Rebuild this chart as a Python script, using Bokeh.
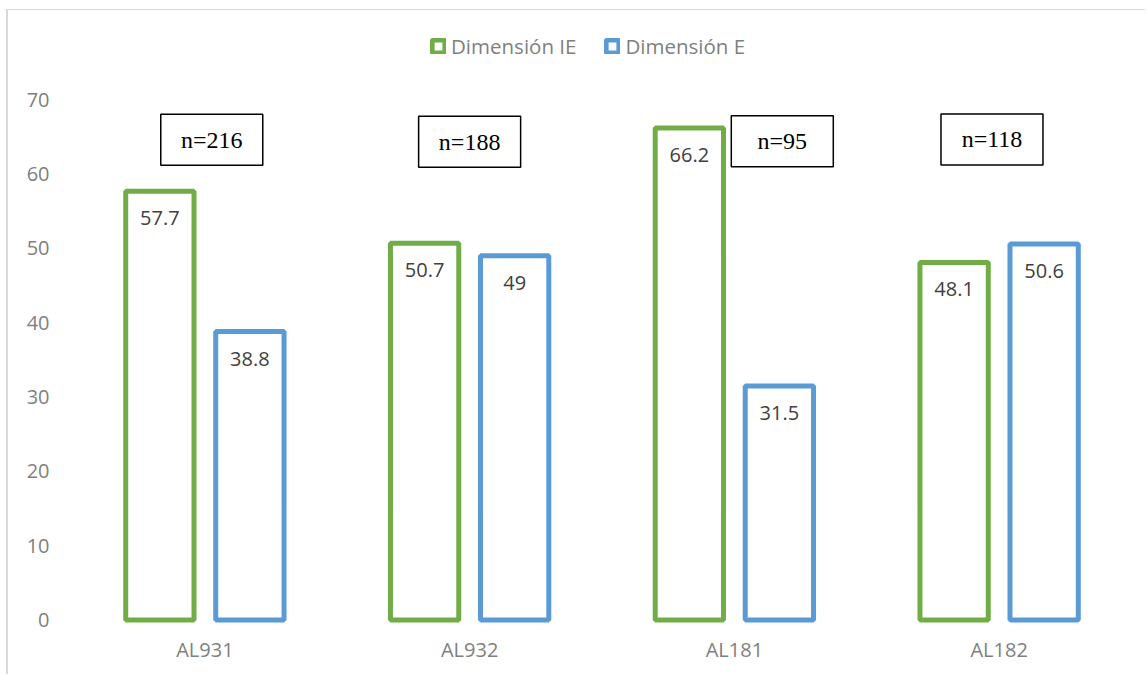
from bokeh.plotting import figure
from bokeh.models import FactorRange, Range1d, FixedTicker, Legend, LegendItem, ColumnDataSource
from bokeh.transform import dodge
from bokeh.core.properties import value
from bokeh.embed import file_html
from bokeh.resources import INLINE

# ---- data ----
categories = ["AL931", "AL932", "AL181", "AL182"]
dim_ie = [57.7, 50.7, 66.2, 48.1]
dim_e = [38.8, 49.0, 31.5, 50.6]
sample_sizes = [216, 188, 95, 118]
series_names = ["Dimensión IE", "Dimensión E"]
y_ticks = [0, 10, 20, 30, 40, 50, 60, 70]

# ---- layout / style constants ----
GREEN = "#70AD47"
BLUE = "#5B9BD5"
BAR_OFFSET = 0.170
BAR_WIDTH = 0.258
# n-box annotation placement (offset from category centre, y in data units)
nbox_dx = [0.026, 0.0, 0.181, -0.027]
nbox_y = [64.62, 64.33, 64.42, 64.66]

def fmt(v):
    return f"{v:g}"

src = ColumnDataSource(dict(
    cat=categories,
    ie=dim_ie,
    e=dim_e,
    ie_lbl=[fmt(v) for v in dim_ie],
    e_lbl=[fmt(v) for v in dim_e],
))

p = figure(
    x_range=FactorRange(factors=categories),
    y_range=Range1d(-0.6, 82.0),
    width=1139, height=665,
    output_backend="svg", toolbar_location=None,
    min_border_left=64, min_border_right=16, min_border_top=0, min_border_bottom=51,
    styles={"margin-left": "6px", "margin-top": "9px",
            "border-left": "2px solid #d9d9d9", "border-top": "1px solid #d9d9d9"},
)
p.outline_line_color = None
p.xgrid.grid_line_color = None
p.ygrid.grid_line_color = None
p.background_fill_color = "white"
p.border_fill_color = "white"

r_ie = p.vbar(x=dodge("cat", -BAR_OFFSET, range=p.x_range), top="ie", bottom=0, width=BAR_WIDTH,
              source=src, fill_color="white", line_color=GREEN, line_width=5)
r_e = p.vbar(x=dodge("cat", BAR_OFFSET, range=p.x_range), top="e", bottom=0, width=BAR_WIDTH,
             source=src, fill_color="white", line_color=BLUE, line_width=5)

lbl_style = dict(text_font=value("Open Sans"), text_font_size="20px", text_color="#404040",
                 text_align="center", text_baseline="middle", y_offset=27)
p.text(x=dodge("cat", -BAR_OFFSET, range=p.x_range), y="ie", text="ie_lbl", source=src, **lbl_style)
p.text(x=dodge("cat", BAR_OFFSET, range=p.x_range), y="e", text="e_lbl", source=src, **lbl_style)

# n= boxes
nsrc = ColumnDataSource(dict(
    x=[(c, dx) for c, dx in zip(categories, nbox_dx)],
    y=nbox_y,
    t=[f"n={n}" for n in sample_sizes],
))
p.rect(x="x", y="y", width=102, height=51, width_units="screen", height_units="screen",
       source=nsrc, fill_color="white", line_color="#000000", line_width=1.5)
p.text(x="x", y="y", text="t", source=nsrc, text_font=value("Liberation Serif"),
       text_font_size="24px", text_color="#000000", text_align="center", text_baseline="middle")

# axes
p.yaxis.ticker = FixedTicker(ticks=y_ticks)
for ax in (p.xaxis[0], p.yaxis[0]):
    ax.axis_line_color = None
    ax.major_tick_line_color = None
    ax.minor_tick_line_color = None
    ax.major_tick_out = 0
    ax.major_tick_in = 0
    ax.major_label_text_font = "Open Sans"
    ax.major_label_text_font_size = "20px"
    ax.major_label_text_color = "#7f7f7f"
p.yaxis.major_label_standoff = 23
p.xaxis.major_label_standoff = 11

legend = Legend(
    items=[LegendItem(label=series_names[0], renderers=[r_ie]),
           LegendItem(label=series_names[1], renderers=[r_e])],
    orientation="horizontal", location=(358, 564),
    border_line_color=None, background_fill_alpha=0,
    padding=0, margin=0, spacing=28, label_standoff=5,
    glyph_width=16, glyph_height=16, label_height=20,
    label_text_font="Open Sans", label_text_font_size="20.5px", label_text_color="#7f7f7f",
)
p.add_layout(legend)

open("out.html", "w").write(file_html(p, INLINE))
